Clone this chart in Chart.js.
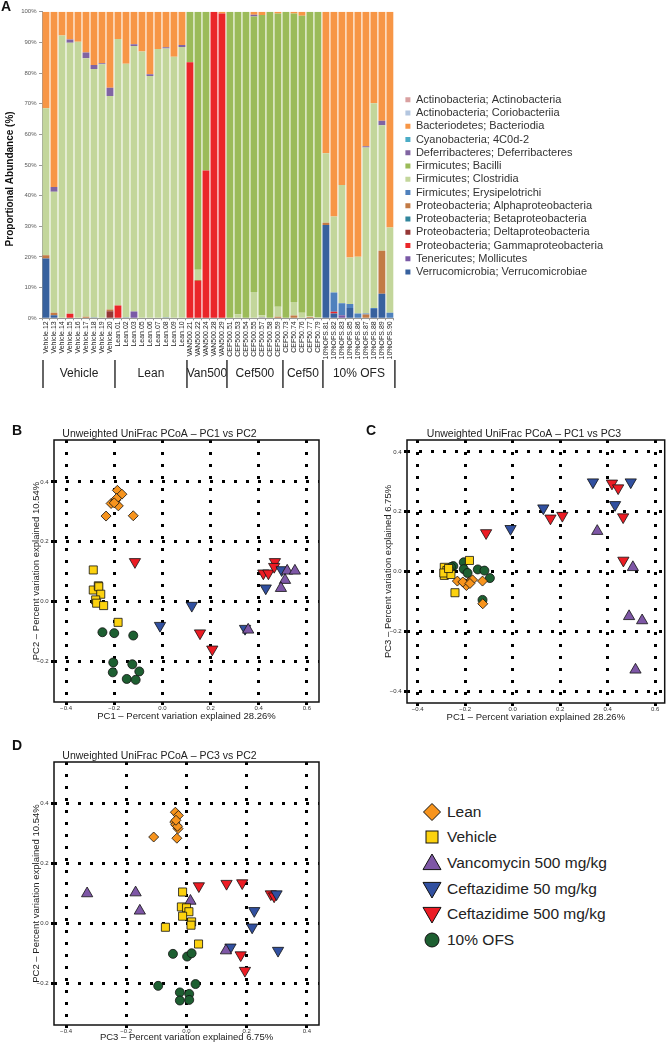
<!DOCTYPE html>
<html>
<head>
<meta charset="utf-8">
<script src="https://cdn.jsdelivr.net/npm/chart.js@4.4.0/dist/chart.umd.min.js"></script>
<style>
  body { margin: 0; background: #fff; width: 672px; height: 1043px; position: relative; overflow: hidden; font-family: 'Liberation Sans', Arial, sans-serif; }
  canvas { position: absolute; }
  .letter { position: absolute; font: bold 14px 'Liberation Sans', Arial, sans-serif; line-height: 1; color: #111; }
  #pcoaLegend { position: absolute; left: 420px; top: 799px; font-size: 15.5px; color: #222; }
  #pcoaLegend .row { height: 25.6px; display: flex; align-items: center; white-space: nowrap; }
  #pcoaLegend svg { width: 24px; height: 24px; margin-right: 3px; flex: none; }
</style>
</head>
<body>
<canvas id="abundanceChart" width="672" height="395" style="left:0;top:0"></canvas>
<canvas id="pc1pc2Chart" width="351" height="302" style="left:0;top:420px"></canvas>
<canvas id="pc1pc3Chart" width="294" height="303" style="left:378px;top:420px"></canvas>
<canvas id="pc3pc2Chart" width="351" height="301" style="left:0;top:742px"></canvas>
<div class="letter" style="left:1px;top:-1px">A</div>
<div class="letter" style="left:12px;top:423px">B</div>
<div class="letter" style="left:366px;top:423px">C</div>
<div class="letter" style="left:12px;top:738px">D</div>
<div id="pcoaLegend"></div>

<script>
Chart.defaults.font.family = "'Liberation Sans', Arial, sans-serif";
Chart.defaults.color = '#222';

// ---- Panel A: proportional abundance per sample ----
const sampleLabels = [
    'Vehicle.12', 'Vehicle.13', 'Vehicle.14', 'Vehicle.15', 'Vehicle.16', 'Vehicle.17', 'Vehicle.18', 'Vehicle.19', 'Vehicle.20',
    'Lean.01', 'Lean.02', 'Lean.03', 'Lean.05', 'Lean.06', 'Lean.07', 'Lean.08', 'Lean.09', 'Lean.10',
    'VAN500.21', 'VAN500.22', 'VAN500.24', 'VAN500.28', 'VAN500.29',
    'CEF500.51', 'CEF500.53', 'CEF500.54', 'CEF500.55', 'CEF500.57', 'CEF500.58', 'CEF500.59',
    'CEF50.73', 'CEF50.74', 'CEF50.76', 'CEF50.77', 'CEF50.79',
    '10%OFS.81', '10%OFS.82', '10%OFS.83', '10%OFS.85', '10%OFS.86', '10%OFS.87', '10%OFS.88', '10%OFS.89', '10%OFS.90'
];
const groupNames = ['Vehicle', 'Lean', 'Van500', 'Cef500', 'Cef50', '10% OFS'];
const groupSizes = [9, 9, 5, 7, 5, 9];
const percentTicks = [0, 10, 20, 30, 40, 50, 60, 70, 80, 90, 100];

// one value per sample, same order as sampleLabels
const verrucomicrobiae = [19.5, 1.0, 0, 0, 0, 0, 0.3, 0, 0,  0, 0.3, 0, 0, 0, 0, 0.3, 0, 0,  0, 0, 0, 0, 0,  0, 0, 0, 0, 0, 0, 0,  0, 0, 0, 0, 0,  30.4, 1.6, 0, 3.4, 0, 0, 3.0, 8.0, 0];
const mollicutes = [0, 0, 0, 0, 0, 0, 0, 0, 0,  0, 0, 2.2, 0, 0, 0, 0, 0, 0,  0, 0, 0, 0, 0,  0, 0, 0, 0, 0.3, 0, 0,  0, 0, 0, 0, 0,  0, 0, 1.0, 0, 0, 0, 0, 0, 0];
const gammaproteobacteria = [0, 0, 0, 1.5, 0, 0, 0, 0, 0,  4.2, 0, 0, 0, 0, 0, 0, 0, 0,  83.5, 12.2, 48.2, 100, 99.4,  0, 0, 0, 0, 0, 0, 0,  0, 0, 0, 0, 0,  0, 0.5, 0, 0, 0, 0, 0, 0, 0];
const deltaproteobacteria = [0, 0, 0, 0, 0, 0, 0, 0, 2.3,  0, 0, 0, 0, 0, 0, 0, 0, 0,  0, 0, 0, 0, 0,  0, 0, 0, 0, 0, 0, 0,  0, 0, 0, 0, 0,  0, 0, 0, 0, 0, 0, 0, 0, 0];
const betaproteobacteria = [0, 0, 0, 0, 0, 0, 0, 0, 0,  0, 0, 0, 0, 0, 0, 0, 0, 0,  0, 0, 0, 0, 0,  0, 0, 0, 0, 0, 0, 0,  0, 0, 0, 0, 0,  0, 0, 0, 0, 0, 0, 0, 0, 0];
const alphaproteobacteria = [1.1, 0.8, 0, 0, 0, 0.5, 0, 0, 0.6,  0, 0, 0, 0, 0, 0, 0, 0, 0,  0, 0.3, 0, 0, 0,  0, 0, 0, 0, 0, 0, 0.5,  0, 0.9, 0, 0.4, 0,  0.8, 0, 0, 0, 0, 1.2, 0, 14.0, 0];
const erysipelotrichi = [0, 0, 0, 0, 0, 0, 0, 0, 0,  0, 0, 0, 0, 0, 0, 0, 0, 0,  0, 0, 0, 0, 0,  0, 0, 0, 0, 0, 0, 0,  0, 0, 0, 0, 0,  0, 6.3, 3.9, 1.3, 1.6, 0.4, 0.4, 0, 1.8];
const clostridia = [47.9, 39.5, 92.2, 88.4, 90.2, 84.3, 81.0, 82.9, 69.6,  86.9, 82.7, 86.6, 87.0, 79.0, 87.8, 87.7, 85.3, 88.5,  0, 3.3, 0, 0, 0,  0, 1.3, 0, 8.6, 0.7, 0, 3.3,  0, 4.4, 1.8, 0.3, 0.3,  22.6, 24.8, 38.6, 15.1, 18.5, 54.1, 66.7, 41.0, 27.8];
const bacilli = [0, 0, 0, 0, 0, 0, 0, 0, 0,  0, 0, 0, 0, 0, 0, 0, 0, 0,  16.5, 84.2, 51.8, 0, 0,  100, 98.7, 100, 89.8, 97.9, 100, 95.6,  100, 94.1, 96.9, 99.3, 99.7,  0, 0, 0, 0, 0, 0, 0, 0, 0];
const deferribacteres = [0, 1.5, 0, 1.0, 0, 1.9, 1.3, 0.3, 2.7,  0, 0, 0.6, 0, 0.6, 0, 0.4, 0, 0.6,  0, 0, 0, 0, 0,  0, 0, 0, 0.6, 0, 0, 0,  0, 0, 0, 0, 0,  0, 0, 0, 0, 0, 0.4, 0, 1.4, 0];
const cyano4C0d2 = [0, 0, 0, 0, 0, 0, 0, 0, 0,  0, 0, 0, 0, 0, 0, 0, 0, 0,  0, 0, 0, 0, 0,  0, 0, 0, 0, 0, 0, 0,  0, 0, 0, 0, 0,  0, 0, 0, 0, 0, 0, 0, 0, 0];
const bacteroidia = [31.5, 57.2, 7.8, 9.1, 9.8, 13.3, 17.4, 16.8, 24.8,  8.9, 17.0, 10.6, 13.0, 20.4, 12.2, 11.6, 14.7, 10.9,  0, 0, 0, 0, 0.6,  0, 0, 0, 1.0, 1.1, 0, 0.6,  0, 0.6, 1.3, 0, 0,  46.2, 66.8, 56.5, 80.2, 79.9, 43.9, 29.9, 35.6, 70.4];
const coriobacteriia = [0, 0, 0, 0, 0, 0, 0, 0, 0,  0, 0, 0, 0, 0, 0, 0, 0, 0,  0, 0, 0, 0, 0,  0, 0, 0, 0, 0, 0, 0,  0, 0, 0, 0, 0,  0, 0, 0, 0, 0, 0, 0, 0, 0];
const actinobacteria = [0, 0, 0, 0, 0, 0, 0, 0, 0,  0, 0, 0, 0, 0, 0, 0, 0, 0,  0, 0, 0, 0, 0,  0, 0, 0, 0, 0, 0, 0,  0, 0, 0, 0, 0,  0, 0, 0, 0, 0, 0, 0, 0, 0];

// stacked from the bottom up; legend shows them reversed
const taxaNames = [
    'Verrucomicrobia; Verrucomicrobiae', 'Tenericutes; Mollicutes', 'Proteobacteria; Gammaproteobacteria',
    'Proteobacteria; Deltaproteobacteria', 'Proteobacteria; Betaproteobacteria', 'Proteobacteria; Alphaproteobacteria',
    'Firmicutes; Erysipelotrichi', 'Firmicutes; Clostridia', 'Firmicutes; Bacilli', 'Deferribacteres; Deferribacteres',
    'Cyanobacteria; 4C0d-2', 'Bacteriodetes; Bacteriodia', 'Actinobacteria; Coriobacteriia', 'Actinobacteria; Actinobacteria'
];
const taxaValues = [
    verrucomicrobiae, mollicutes, gammaproteobacteria, deltaproteobacteria, betaproteobacteria, alphaproteobacteria,
    erysipelotrichi, clostridia, bacilli, deferribacteres, cyano4C0d2, bacteroidia, coriobacteriia, actinobacteria
];
const taxaColors = [
    '#37619e', '#7a59a6', '#ea2629', '#953735', '#31859c', '#c27a45',
    '#4f81bd', '#c3d69b', '#9bbb59', '#8064a2', '#4bacc6', '#f79646', '#b3c6e0', '#d9a0a0'
];

// group names and brackets under the sample labels
const groupBrackets = {
    id: 'groupBrackets',
    afterDraw(chart) {
        const x = chart.scales.x;
        const ctx = chart.ctx;
        const slot = (x.right - x.left) / sampleLabels.length;
        const top = x.bottom;
        ctx.save();
        ctx.strokeStyle = '#333';
        ctx.lineWidth = 1.5;
        ctx.fillStyle = '#222';
        ctx.font = "12px 'Liberation Sans', Arial, sans-serif";
        ctx.textAlign = 'center';
        ctx.textBaseline = 'middle';
        let start = 0;
        groupSizes.forEach((n, i) => {
            const x0 = x.getPixelForValue(start) - slot / 2 + 1;
            const x1 = x.getPixelForValue(start + n - 1) + slot / 2 + 1;
            ctx.beginPath();
            ctx.moveTo(x0, top);
            ctx.lineTo(x0, top + 28);
            if (i === groupSizes.length - 1) {
                ctx.moveTo(x1, top);
                ctx.lineTo(x1, top + 28);
            }
            ctx.stroke();
            ctx.fillText(groupNames[i], (x0 + x1) / 2, top + 13.5);
            start += n;
        });
        ctx.restore();
    }
};

new Chart(document.getElementById('abundanceChart'), {
    type: 'bar',
    data: {
        labels: sampleLabels,
        datasets: taxaNames.map((name, i) => ({
            label: name,
            data: taxaValues[i],
            backgroundColor: taxaColors[i],
            borderWidth: 0,
            barPercentage: 0.86,
            categoryPercentage: 1
        }))
    },
    options: {
        responsive: false,
        animation: false,
        layout: { padding: { top: 11.7, right: 59, bottom: 35, left: 0 } },
        plugins: {
            tooltip: { enabled: false },
            legend: {
                position: 'right',
                reverse: true,
                maxWidth: 240,
                labels: {
                    boxWidth: 5,
                    boxHeight: 5,
                    padding: 2.25,
                    color: '#333',
                    font: { size: 11 }
                }
            }
        },
        scales: {
            x: {
                stacked: true,
                grid: { drawOnChartArea: false, tickLength: 2, color: '#999' },
                border: { color: '#999' },
                ticks: { autoSkip: false, minRotation: 90, maxRotation: 90, padding: 1, color: '#222', font: { size: 7 } },
                afterFit(s) { s.height = 41.7; }
            },
            y: {
                stacked: true,
                min: 0,
                max: 100,
                afterBuildTicks(s) { s.ticks = percentTicks.map(v => ({ value: v })); },
                grid: { drawOnChartArea: false, tickLength: 3, color: '#999' },
                border: { color: '#999' },
                ticks: { padding: 2.5, color: '#595959', font: { size: 6 }, callback: v => v + '%' },
                title: {
                    display: true,
                    text: 'Proportional Abundance (%)' + '          ',
                    color: '#111',
                    font: { size: 10, weight: 'bold' },
                    padding: { top: 4.5, bottom: 0 }
                },
                afterFit(s) { s.width = 42; }
            },
            // keeps a small gap between the bars and the legend
            spacer: {
                type: 'linear',
                position: 'right',
                grid: { display: false },
                border: { display: false },
                ticks: { display: false },
                afterFit(s) { s.width = 9.25; }
            }
        }
    },
    plugins: [groupBrackets]
});

// ---- Panels B-D: unweighted UniFrac PCoA ----
const groupLabels = ['Lean', 'Vehicle', 'Vancomycin 500 mg/kg', 'Ceftazidime 50 mg/kg', 'Ceftazidime 500 mg/kg', '10% OFS'];
const groupColors = ['#f7941d', '#fcd20f', '#7e57a6', '#3150a0', '#ec1c24', '#1d5f31'];
const groupStyles = ['rectRot', 'rect', 'triangle', 'triangle', 'triangle', 'circle'];
const groupRotations = [0, 0, 0, 180, 180, 0];
const groupRadii = [5, 5.7, 6.5, 6.5, 6.5, 4.5];

// PC1 vs PC2
const bLean = [[-0.187, 0.372], [-0.168, 0.359], [-0.213, 0.328], [-0.194, 0.339], [-0.183, 0.32], [-0.234, 0.286], [-0.121, 0.287], [-0.19, 0.345], [-0.2, 0.33]];
const bVehicle = [[-0.287, 0.106], [-0.287, 0.039], [-0.266, 0.053], [-0.264, 0.05], [-0.256, 0.025], [-0.277, 0.006], [-0.273, -0.005], [-0.244, -0.013], [-0.184, -0.069]];
const bVanco = [[0.518, 0.103], [0.55, 0.103], [0.509, 0.072], [0.492, 0.045], [0.356, -0.094]];
const bCef50 = [[0.122, -0.013], [-0.01, -0.08], [0.343, -0.09], [0.429, 0.045], [0.495, 0.106]];
const bCef500 = [[-0.114, 0.133], [0.156, -0.105], [0.207, -0.159], [0.419, 0.095], [0.44, 0.095], [0.467, 0.133], [0.464, 0.117]];
const bOfs = [[-0.249, -0.102], [-0.2, -0.105], [-0.121, -0.113], [-0.204, -0.203], [-0.206, -0.236], [-0.125, -0.209], [-0.096, -0.233], [-0.148, -0.258], [-0.111, -0.261]];

// PC1 vs PC3
const cLean = [[-0.233, -0.032], [-0.199, -0.041], [-0.185, -0.036], [-0.169, -0.028], [-0.195, -0.047], [-0.127, -0.032], [-0.126, -0.108], [-0.21, -0.035], [-0.18, -0.04]];
const cVehicle = [[-0.288, 0.014], [-0.268, 0.0], [-0.288, -0.013], [-0.277, 0.003], [-0.182, 0.037], [-0.243, -0.071], [-0.29, -0.005], [-0.26, -0.01], [-0.27, 0.01]];
const cVanco = [[0.356, 0.135], [0.506, 0.014], [0.49, -0.15], [0.545, -0.164], [0.517, -0.329]];
const cCef50 = [[0.338, 0.299], [0.497, 0.299], [0.431, 0.223], [0.129, 0.212], [-0.009, 0.143]];
const cCef500 = [[0.418, 0.295], [0.444, 0.279], [0.159, 0.178], [0.209, 0.187], [0.465, 0.182], [-0.112, 0.129], [0.466, 0.037]];
const cOfs = [[-0.25, 0.018], [-0.206, 0.031], [-0.206, 0.008], [-0.147, 0.007], [-0.119, 0.003], [-0.096, -0.022], [-0.127, -0.095], [-0.19, -0.005], [-0.26, 0.015]];

// PC3 vs PC2
const dLean = [[-0.037, 0.372], [-0.027, 0.361], [-0.039, 0.339], [-0.028, 0.317], [-0.036, 0.33], [-0.032, 0.285], [-0.109, 0.289], [-0.03, 0.325], [-0.035, 0.345]];
const dVehicle = [[-0.013, 0.105], [-0.017, 0.055], [0.0, 0.052], [0.008, 0.039], [-0.013, 0.024], [0.017, 0.005], [0.015, -0.006], [-0.07, -0.013], [0.04, -0.069]];
const dVanco = [[-0.33, 0.1], [-0.169, 0.103], [-0.155, 0.042], [0.013, 0.075], [0.131, -0.091]];
const dCef50 = [[0.299, 0.098], [0.225, 0.042], [0.218, -0.013], [0.146, -0.08], [0.304, -0.091]];
const dCef500 = [[0.041, 0.125], [0.133, 0.133], [0.185, 0.135], [0.28, 0.098], [0.291, 0.091], [0.18, -0.106], [0.194, -0.158]];
const dOfs = [[-0.045, -0.102], [0.002, -0.111], [0.017, -0.1], [-0.094, -0.209], [0.03, -0.203], [-0.022, -0.231], [0.009, -0.236], [-0.022, -0.258], [0.009, -0.256]];

const pc1Ticks = [-0.4, -0.2, 0, 0.2, 0.4, 0.6];
const pc2Ticks = [-0.2, 0, 0.2, 0.4];
const pc3Ticks = [-0.4, -0.2, 0, 0.2, 0.4];

const frame = {
    id: 'frame',
    afterDraw(chart) {
        const { ctx, chartArea: a } = chart;
        ctx.save();
        ctx.strokeStyle = '#111';
        ctx.lineWidth = 1.5;
        ctx.strokeRect(a.left, a.top, a.right - a.left, a.bottom - a.top);
        ctx.restore();
    }
};

function fmtTick(v) {
    return (v < 0 ? '\u2212' : '') + Math.abs(v).toFixed(1);
}

function pcAxis(range, ticks, titleText, isY, size, titlePad) {
    return {
        type: 'linear',
        min: range[0],
        max: range[1],
        afterBuildTicks(s) { s.ticks = ticks.map(v => ({ value: v })); },
        grid: { color: '#000', lineWidth: 3, tickLength: 3 },
        border: { display: false, dash: [3, 9] },
        ticks: { padding: isY ? 2.5 : 0, color: '#333', font: { size: 6 }, callback: fmtTick },
        title: {
            display: true,
            text: titleText,
            color: '#222',
            font: { size: 9.5 },
            padding: isY ? { top: titlePad, bottom: 0 } : { top: 0, bottom: 0 }
        },
        afterFit(s) {
            if (isY) s.width = size; else s.height = size;
        }
    };
}

function makePcoa(id, cfg) {
    return new Chart(document.getElementById(id), {
        type: 'scatter',
        data: {
            datasets: cfg.series.map((pts, i) => ({
                label: groupLabels[i],
                data: pts,
                pointStyle: groupStyles[i],
                pointRotation: groupRotations[i],
                pointRadius: groupRadii[i],
                backgroundColor: groupColors[i],
                borderColor: '#111',
                borderWidth: 0.8
            }))
        },
        options: {
            responsive: false,
            animation: false,
            layout: { padding: { top: 0, right: cfg.padRight, bottom: 0, left: 0 } },
            plugins: {
                legend: { display: false },
                tooltip: { enabled: false },
                title: {
                    display: true,
                    text: cfg.title,
                    color: '#222',
                    font: { size: 10.5, weight: 'normal' },
                    padding: { top: 7.4, bottom: 0 }
                }
            },
            scales: {
                x: pcAxis(cfg.xRange, cfg.xTicks, cfg.xTitle, false, cfg.xHeight, 0),
                y: pcAxis(cfg.yRange, cfg.yTicks, cfg.yTitle, true, cfg.yWidth, cfg.yTitlePad)
            }
        },
        plugins: [frame]
    });
}

makePcoa('pc1pc2Chart', {
    title: 'Unweighted UniFrac PCoA \u2013 PC1 vs PC2',
    xTitle: 'PC1 \u2013 Percent variation explained 28.26%',
    yTitle: 'PC2 \u2013 Percent variation explained 10.54%',
    xRange: [-0.45, 0.65], yRange: [-0.335, 0.54],
    xTicks: pc1Ticks, yTicks: pc2Ticks,
    series: [bLean, bVehicle, bVanco, bCef50, bCef500, bOfs],
    padRight: 32, xHeight: 20, yWidth: 54, yTitlePad: 30.3
});

makePcoa('pc1pc3Chart', {
    title: 'Unweighted UniFrac PCoA \u2013 PC1 vs PC3',
    xTitle: 'PC1 \u2013 Percent variation explained 28.26%',
    yTitle: 'PC3 \u2013 Percent variation explained 6.75%',
    xRange: [-0.445, 0.64], yRange: [-0.44, 0.44],
    xTicks: pc1Ticks, yTicks: pc3Ticks,
    series: [cLean, cVehicle, cVanco, cCef50, cCef500, cOfs],
    padRight: 2, xHeight: 20, yWidth: 29, yTitlePad: 4.3
});

makePcoa('pc3pc2Chart', {
    title: 'Unweighted UniFrac PCoA \u2013 PC3 vs PC2',
    xTitle: 'PC3 \u2013 Percent variation explained 6.75%',
    yTitle: 'PC2 \u2013 Percent variation explained 10.54%',
    xRange: [-0.44, 0.44], yRange: [-0.34, 0.54],
    xTicks: pc3Ticks, yTicks: pc2Ticks,
    series: [dLean, dVehicle, dVanco, dCef50, dCef500, dOfs],
    padRight: 32, xHeight: 18, yWidth: 54, yTitlePad: 30.3
});

// shared symbol legend for B-D
const markerShapes = {
    rectRot: () => '<polygon points="12,3.5 20.5,12 12,20.5 3.5,12"/>',
    rect: () => '<rect x="6" y="6" width="12" height="12"/>',
    triangle: rot => rot === 180
        ? '<polygon points="3,5.4 21,5.4 12,21"/>'
        : '<polygon points="12,3 21,18.6 3,18.6"/>',
    circle: () => '<circle cx="12" cy="12" r="7"/>'
};
document.getElementById('pcoaLegend').innerHTML = groupLabels.map((label, i) =>
    '<div class="row"><svg viewBox="0 0 24 24"><g fill="' + groupColors[i] + '" stroke="#111" stroke-width="1">' +
    markerShapes[groupStyles[i]](groupRotations[i]) + '</g></svg><span>' + label + '</span></div>'
).join('');
</script>
</body>
</html>
